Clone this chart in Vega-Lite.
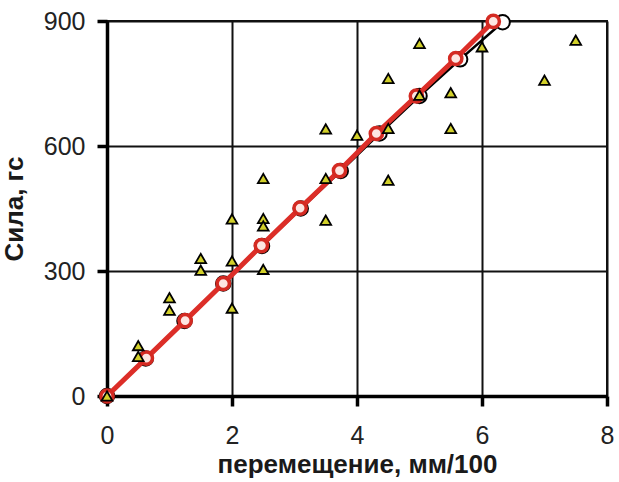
{
  "$schema": "https://vega.github.io/schema/vega-lite/v6.json",
  "autosize": {"type": "none"},
  "width": 500,
  "height": 375,
  "padding": {"left": 107, "top": 21, "right": 12, "bottom": 86},
  "background": "white",
  "config": {
    "view": {"stroke": "#111", "strokeWidth": 2},
    "font": "Liberation Sans",
    "axis": {
      "domainColor": "black", "domainWidth": 3.5,
      "tickColor": "black", "tickWidth": 3.5, "tickSize": 10,
      "gridColor": "#111", "gridWidth": 2, "gridOpacity": 1,
      "labelFlush": false,
      "labelFont": "Liberation Sans", "labelFontSize": 25, "labelColor": "#222",
      "titleFont": "Liberation Sans", "titleFontSize": 26, "titleFontWeight": "bold", "titleColor": "#1a1a1a"
    }
  },
  "datasets": {
    "black": [
      {"x": 0, "y": 0}, {"x": 0.62, "y": 90}, {"x": 1.24, "y": 180}, {"x": 1.86, "y": 270},
      {"x": 2.48, "y": 360}, {"x": 3.1, "y": 450}, {"x": 3.74, "y": 540}, {"x": 4.36, "y": 630},
      {"x": 5.0, "y": 720}, {"x": 5.65, "y": 808}, {"x": 6.33, "y": 897}
    ],
    "red": [
      {"x": 0, "y": 0}, {"x": 0.63, "y": 91}, {"x": 1.25, "y": 181}, {"x": 1.86, "y": 270},
      {"x": 2.47, "y": 361}, {"x": 3.09, "y": 451}, {"x": 3.72, "y": 541}, {"x": 4.31, "y": 630},
      {"x": 4.95, "y": 720}, {"x": 5.58, "y": 810}, {"x": 6.18, "y": 899}
    ],
    "tri": [
      {"x": 0, "y": 0},
      {"x": 0.5, "y": 121}, {"x": 0.5, "y": 95},
      {"x": 1.0, "y": 236}, {"x": 1.0, "y": 206},
      {"x": 1.5, "y": 330}, {"x": 1.5, "y": 302},
      {"x": 2.0, "y": 425}, {"x": 2.0, "y": 324}, {"x": 2.0, "y": 211},
      {"x": 2.5, "y": 522}, {"x": 2.5, "y": 426}, {"x": 2.5, "y": 408}, {"x": 2.5, "y": 304},
      {"x": 3.5, "y": 641}, {"x": 3.5, "y": 522}, {"x": 3.5, "y": 422},
      {"x": 4.0, "y": 626},
      {"x": 4.5, "y": 762}, {"x": 4.5, "y": 642}, {"x": 4.5, "y": 518},
      {"x": 5.0, "y": 846}, {"x": 5.0, "y": 722},
      {"x": 5.5, "y": 728}, {"x": 5.5, "y": 642},
      {"x": 6.0, "y": 838},
      {"x": 7.0, "y": 758},
      {"x": 7.5, "y": 854}
    ]
  },
  "encoding": {
    "x": {"field": "x", "type": "quantitative",
      "scale": {"domain": [0, 8], "nice": false},
      "axis": {"values": [0, 2, 4, 6, 8], "title": "перемещение, мм/100", "labelPadding": 17, "titlePadding": 3}},
    "y": {"field": "y", "type": "quantitative",
      "scale": {"domain": [0, 900], "nice": false},
      "axis": {"values": [0, 300, 600, 900], "title": "Сила, гс", "labelPadding": 12, "titlePadding": 16}}
  },
  "layer": [
    {"data": {"name": "black"}, "mark": {"type": "line", "color": "black", "strokeWidth": 2.5}},
    {"data": {"name": "black"}, "mark": {"type": "point", "shape": "circle", "filled": true, "fill": "white", "stroke": "black", "strokeWidth": 2, "size": 210, "opacity": 1}},
    {"data": {"name": "red"}, "mark": {"type": "line", "color": "#dc2e28", "strokeWidth": 5}},
    {"data": {"name": "red"}, "mark": {"type": "point", "shape": "circle", "filled": true, "fill": "#fde6e2", "stroke": "#d42a22", "strokeWidth": 3.5, "size": 150, "opacity": 1}},
    {"data": {"name": "tri"}, "mark": {"type": "point", "shape": "triangle-up", "filled": true, "fill": "#d2d02a", "stroke": "black", "strokeWidth": 1.8, "size": 115, "opacity": 1}}
  ]
}
